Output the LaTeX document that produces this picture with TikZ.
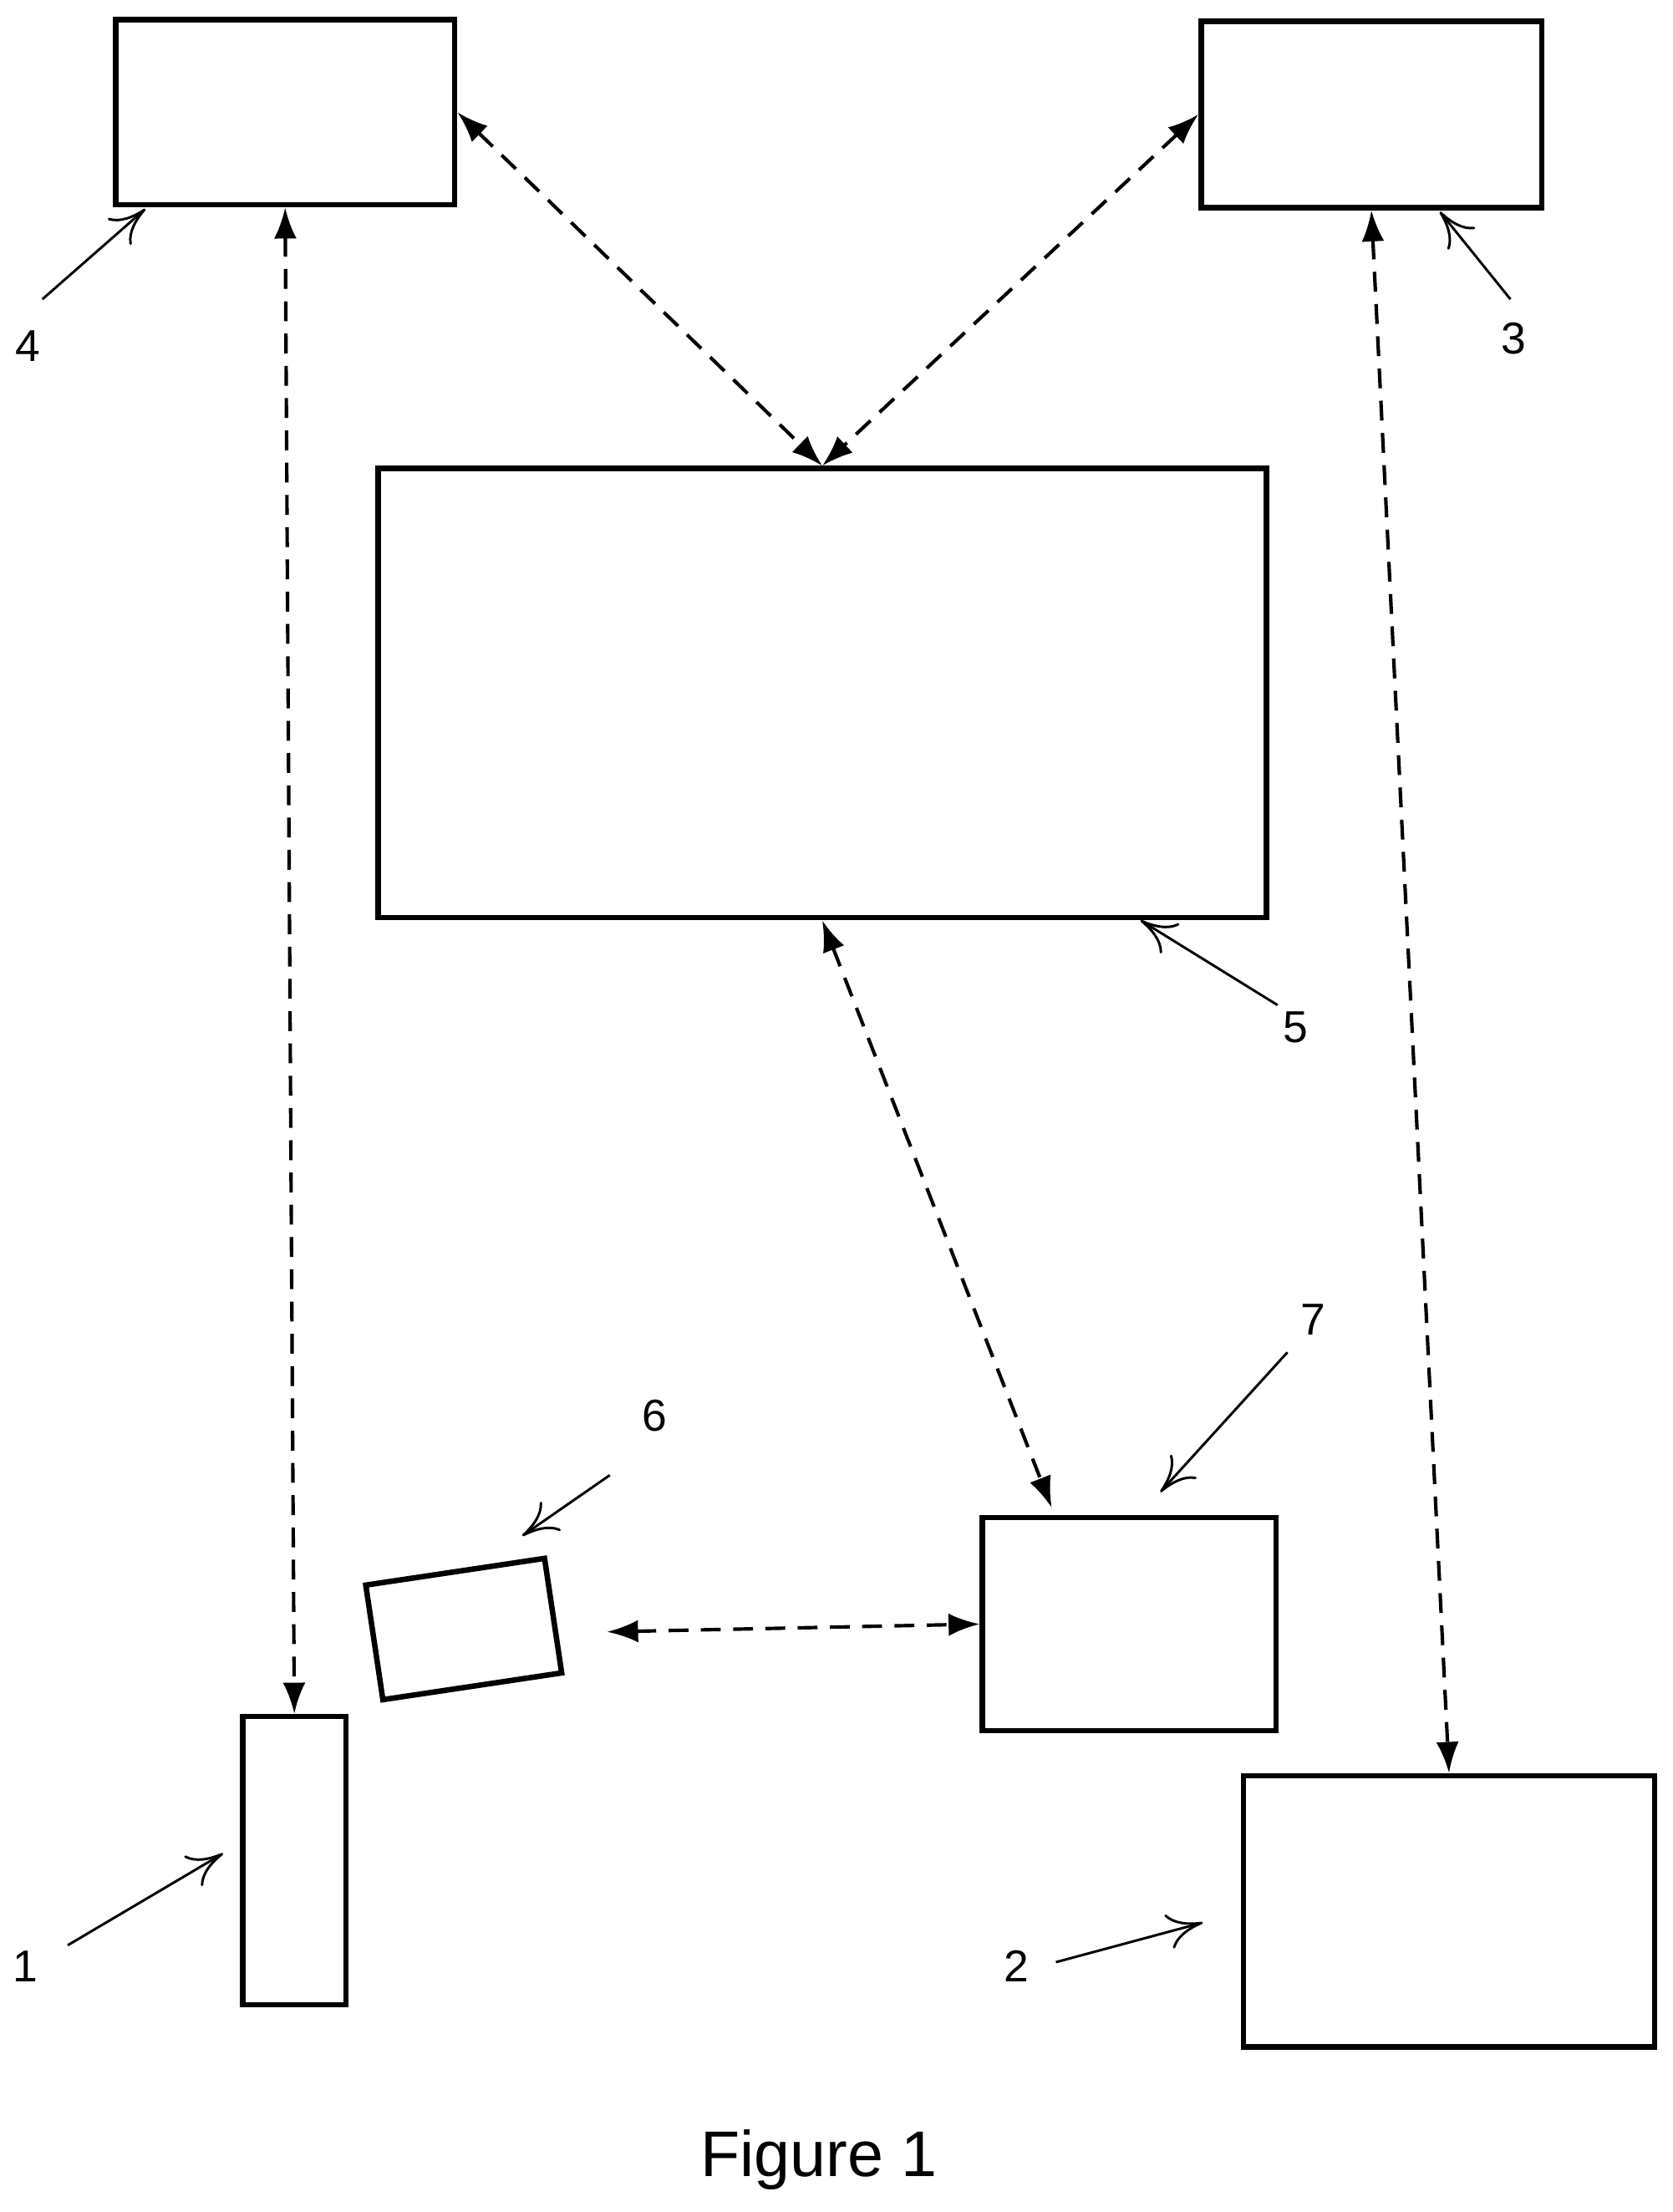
\documentclass[tikz,border=0pt]{standalone}
\usepackage{fontspec}
\setmainfont{Liberation Sans}
\usetikzlibrary{positioning, arrows.meta}

\begin{document}
\begin{tikzpicture}[x=0.01cm, y=-0.01cm,
    box/.style={rectangle, draw=black, line width=1.1pt, inner sep=0pt},
    link/.style={{Latex[length=2.2mm, width=1.6mm]}-{Latex[length=2.2mm, width=1.6mm]}, line width=0.7pt, dash pattern=on 4pt off 2.5pt},
    pointer/.style={-{To[length=2.5mm, width=2.5mm]}, line width=0.5pt},
    num/.style={font=\fontsize{9}{10}\selectfont, inner sep=1pt}
]
    \useasboundingbox (0,0) rectangle (1185,1567);

    % Boxes
    \node[box, minimum width=2.40cm, minimum height=1.31cm] (term) at (202,79.5) {};
    \node[box, minimum width=2.41cm, minimum height=1.32cm] (srv) at (971.5,81) {};
    \node[box, minimum width=6.29cm, minimum height=3.18cm] (hub) at (582.5,491) {};
    \node[box, minimum width=2.08cm, minimum height=1.51cm] (gate) at (800,1150.5) {};
    \node[box, minimum width=2.91cm, minimum height=1.92cm] (base) at (1026.5,1354) {};
    \node[box, minimum width=0.73cm, minimum height=2.04cm] (tag) at (208.5,1318) {};
    \node[box, minimum width=1.28cm, minimum height=0.82cm, rotate=8.5] (card) at (328.5,1154) {};

    % Links
    \coordinate (gateIn) at (745,1068);
    \coordinate (cardOut) at (430,1156);
    \draw[link] (term.south) -- (tag.north);
    \draw[link] (term.east) -- (hub.north);
    \draw[link] (srv.west) -- (hub.north);
    \draw[link] (hub.south) -- (gateIn);
    \draw[link] (cardOut) -- (gate.west);
    \draw[link] (srv.south) -- (base.north);

    % Reference numerals
    \node[num] (n4) at (20,245) {4};
    \node[num] (n3) at (1072,240) {3};
    \node[num] (n5) at (918,728) {5};
    \node[num] (n7) at (930,935) {7};
    \node[num] (n6) at (464,1003) {6};
    \node[num] (n1) at (18,1393) {1};
    \node[num] (n2) at (720,1393) {2};
    \coordinate (p4) at (103,148);
    \coordinate (p3) at (1020,150);
    \coordinate (p5) at (808,652);
    \coordinate (p7) at (822,1057);
    \coordinate (p6) at (370,1088);
    \coordinate (p1) at (158,1313);
    \coordinate (p2) at (852,1362);
    \draw[pointer] (30,212) -- (p4);
    \draw[pointer] (1070,212) -- (p3);
    \draw[pointer] (905,712) -- (p5);
    \draw[pointer] (912,958) -- (p7);
    \draw[pointer] (432,1045) -- (p6);
    \draw[pointer] (48,1378) -- (p1);
    \draw[pointer] (748,1390) -- (p2);

    \node[font=\fontsize{13}{15}\selectfont] (cap) at (580,1530) {Figure 1};
\end{tikzpicture}
\end{document}
